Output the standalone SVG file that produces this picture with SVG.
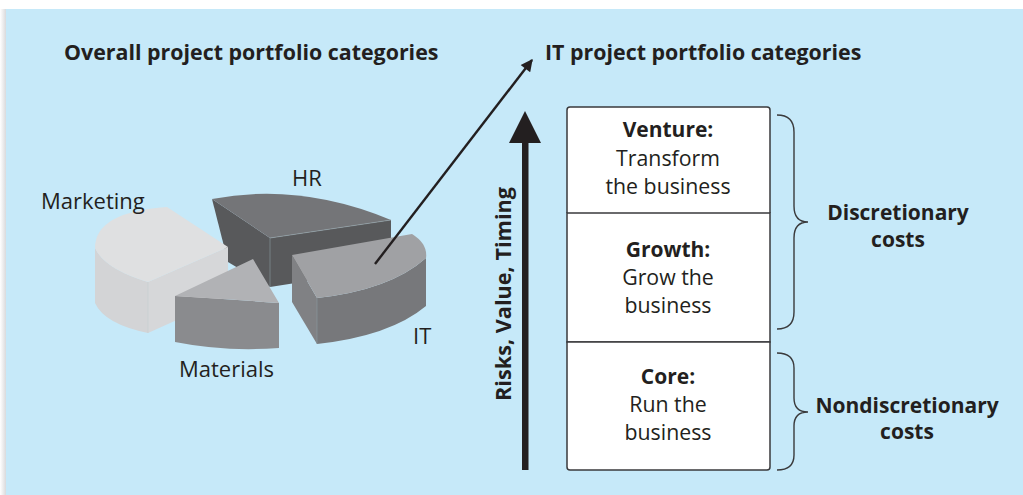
<svg xmlns="http://www.w3.org/2000/svg" width="1023" height="495" viewBox="0 0 1023 495">
<defs>
<linearGradient id="edge" x1="0" y1="0" x2="1" y2="0">
<stop offset="0" stop-color="#ffffff"/><stop offset="1" stop-color="#d9dadc"/>
</linearGradient>
<marker id="ah" viewBox="0 0 10 10" refX="9" refY="5" markerWidth="8" markerHeight="5" orient="auto" markerUnits="strokeWidth">
<path d="M0,0 L10,5 L0,10 Z" fill="#231f20"/>
</marker>
</defs>
<style>
text{font-family:"Open Sans","Liberation Sans",sans-serif;fill:#231f20}
.b{font-weight:bold}
.t{font-size:21.4px;font-weight:bold}
.lbl{font-size:22px}
.box{font-size:21.3px;text-anchor:middle}
.bb{font-size:21px;font-weight:bold;text-anchor:middle}
.br{fill:none;stroke:#3a3a3c;stroke-width:1.4}
</style>
<rect x="0" y="0" width="1023" height="495" fill="#ffffff"/>
<rect x="0" y="9" width="6" height="486" fill="url(#edge)"/>
<rect x="6" y="9" width="1017" height="486" fill="#c6e9f9"/>

<g id="titles">
<text class="t" x="64" y="60">Overall project portfolio categories</text>
<text class="t" x="545" y="60">IT project portfolio categories</text>
</g>

<g id="pie-hr">
<path d="M270,238 L391,220 L391,268 L270,287 Z" fill="#58595b"/>
<path d="M212,199 L270,238 L270,287 L228,262 Z" fill="#58595b"/>
<path d="M270,238 L212,199 Q300,182 391,220 Z" fill="#747578"/>
<path d="M270,238 L391,220" stroke="#9aa7ad" stroke-width="0.6" fill="none"/>
<path d="M270,238 L270,287" stroke="#8a9aa2" stroke-width="0.6" fill="none"/>
<text class="lbl" x="292" y="186">HR</text>
</g>

<g id="pie-marketing">
<path d="M95,248 L95,303 Q104.5,324 148,333 L148,282 Q104.5,269 95,248 Z" fill="#d3d4d6"/>
<path d="M148,282 L228,247 L228,297 L148,333 Z" fill="#d6d7d9"/>
<path d="M228,247 L167,207 Q95,212 95,248 Q104.5,269 148,282 Z" fill="#dfe0e1"/>
<path d="M148,282 L148,333" stroke="#c2ccd1" stroke-width="0.6" fill="none"/>
<text class="lbl" x="41" y="209">Marketing</text>
</g>

<g id="pie-materials">
<path d="M175,296 L175,342 Q225,352 279,348 L279,303 Q225,299 175,296 Z" fill="#8a8b8e"/>
<path d="M253,259 L175,296 Q225,299 279,303 Z" fill="#b1b2b5"/>
<text class="lbl" x="179" y="377">Materials</text>
</g>

<g id="pie-it">
<path d="M292,255 L317,298 L317,344 L292,302 Z" fill="#808184"/>
<path d="M317,298 Q390,290 426,258 L426,306 Q390,336 317,344 Z" fill="#77787b"/>
<path d="M292,255 L412,234 Q428,244 426,258 Q390,290 317,298 Z" fill="#a0a1a4"/>
<path d="M317,298 L317,344" stroke="#8a9aa2" stroke-width="0.6" fill="none"/>
<text class="lbl" x="413" y="344">IT</text>
</g>

<g id="connectors">
<line x1="375" y1="264" x2="532" y2="60" stroke="#231f20" stroke-width="2.4" marker-end="url(#ah)"/>
<rect x="522" y="140" width="6.5" height="330" fill="#231f20"/>
<path d="M525,111 L509,143 L541,143 Z" fill="#231f20"/>
</g>

<g id="axis-label">
<text class="b" font-size="21.7" text-anchor="middle" transform="translate(511,294) rotate(-90)">Risks, Value, Timing</text>
</g>

<g id="box-venture">
<path d="M567,213 L567,110 Q567,107 570,107 L767,107 Q770,107 770,110 L770,213" fill="#ffffff" stroke="#3a3a3c" stroke-width="1.5"/>
<text class="bb" x="668" y="137">Venture:</text>
<text class="box" x="668" y="166">Transform</text>
<text class="box" x="668" y="194">the business</text>
</g>
<g id="box-growth">
<rect x="567" y="213" width="203" height="129" fill="#ffffff" stroke="#3a3a3c" stroke-width="1.5"/>
<text class="bb" x="668" y="257">Growth:</text>
<text class="box" x="668" y="285">Grow the</text>
<text class="box" x="668" y="313">business</text>
</g>
<g id="box-core">
<path d="M567,342 L567,467 Q567,470 570,470 L767,470 Q770,470 770,467 L770,342 Z" fill="#ffffff" stroke="#3a3a3c" stroke-width="1.5"/>
<text class="bb" x="668" y="384">Core:</text>
<text class="box" x="668" y="412">Run the</text>
<text class="box" x="668" y="440">business</text>
</g>

<g id="brace-discretionary">
<path class="br" d="M777,115 Q794,115 794,132 L794,206 Q794,222 808,222 Q794,222 794,238 L794,312 Q794,329 777,329"/>
<text class="bb" x="898" y="220">Discretionary</text>
<text class="bb" x="898" y="247">costs</text>
</g>
<g id="brace-nondiscretionary">
<path class="br" d="M777,353 Q794,353 794,368 L794,398 Q794,412 808,412 Q794,412 794,426 L794,455 Q794,470 777,470"/>
<text class="bb" x="907" y="413">Nondiscretionary</text>
<text class="bb" x="907" y="439">costs</text>
</g>
</svg>
